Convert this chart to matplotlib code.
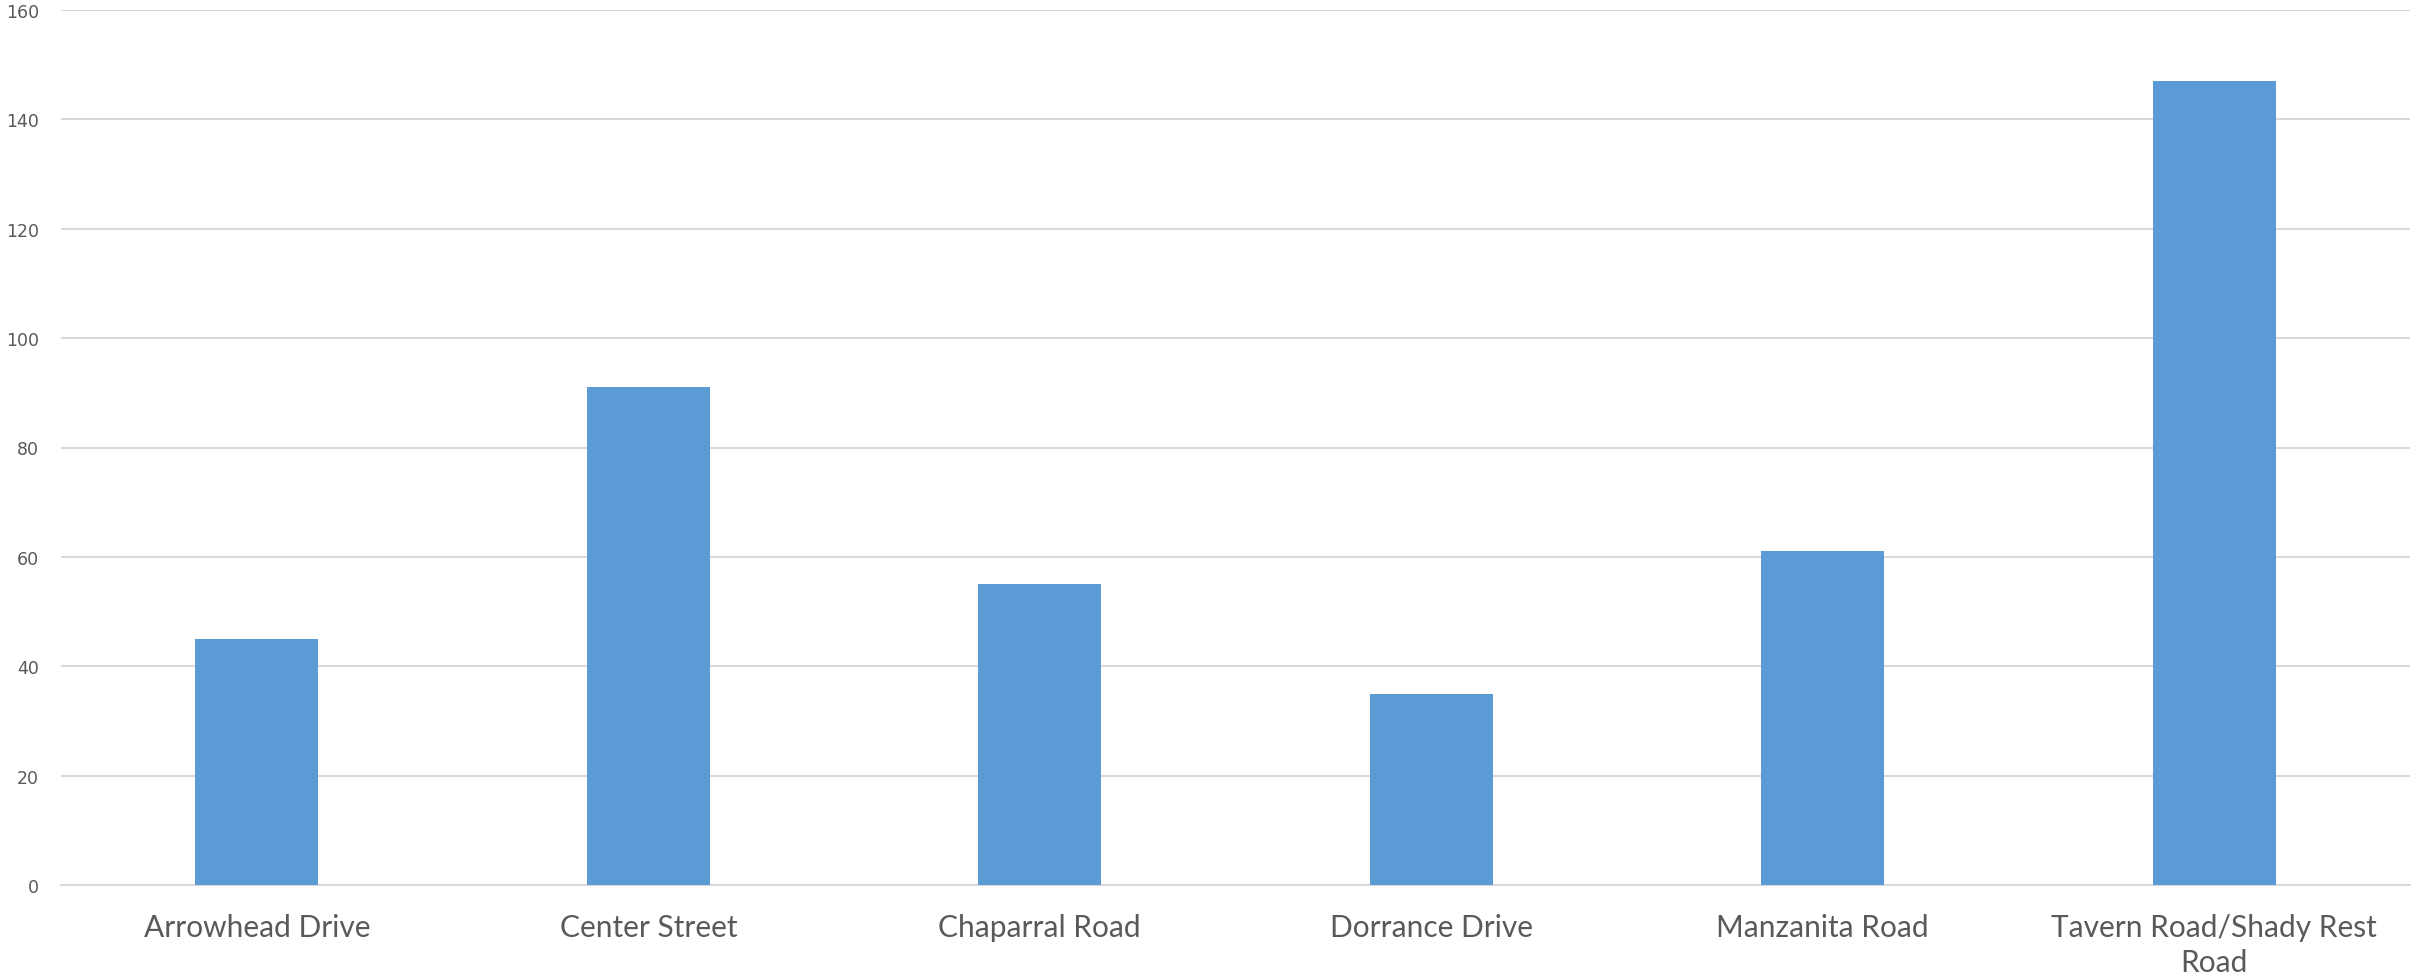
import matplotlib.pyplot as plt

# data
streets = ['Arrowhead Drive', 'Center Street', 'Chaparral Road',
           'Dorrance Drive', 'Manzanita Road', 'Tavern Road/Shady Rest\nRoad']
counts = [45, 91, 55, 35, 61, 147]
yticks = [0, 20, 40, 60, 80, 100, 120, 140, 160]

bar_color = '#5B9BD5'
grid_color = '#D9D9D9'
text_color = '#595959'

fig = plt.figure(figsize=(24.12, 9.79), dpi=100)
ax = fig.add_axes([61 / 2412, 93 / 979, 2349 / 2412, 875 / 979])

x = range(len(streets))
ax.bar(x, counts, width=0.313, color=bar_color, zorder=3)

ax.set_xlim(-0.5, len(streets) - 0.5)
ax.set_ylim(0, 160)
ax.set_yticks(yticks)
ax.set_xticks(list(x))
ax.set_xticklabels(streets, fontsize=21.5, color=text_color, family='Lato',
                   linespacing=1.3)
ax.tick_params(axis='y', labelsize=12.5, colors=text_color, length=0, pad=16)
ax.tick_params(axis='x', length=0, pad=20)
for lab in ax.get_yticklabels():
    lab.set_family('DejaVu Sans')

ax.grid(axis='y', color=grid_color, linewidth=1.5, zorder=0)
for side in ['top', 'right', 'left']:
    ax.spines[side].set_visible(False)
ax.spines['bottom'].set_color(grid_color)
ax.spines['bottom'].set_linewidth(1.5)

fig.savefig('out.png', dpi=100, facecolor='white')
